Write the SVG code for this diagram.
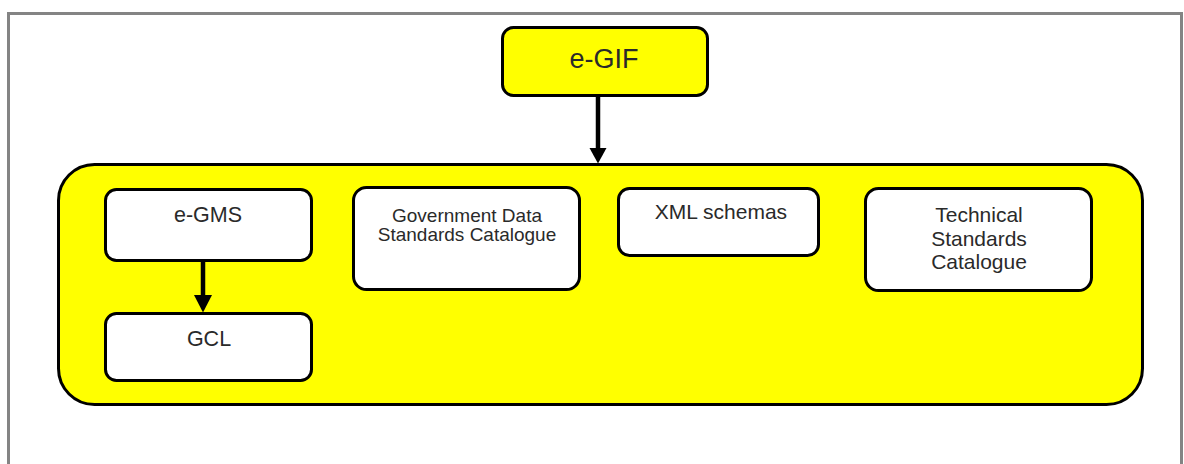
<svg xmlns="http://www.w3.org/2000/svg" width="1184" height="464" viewBox="0 0 1184 464">
  <defs>
    <style>
      .box { fill: #ffffff; stroke: #000000; stroke-width: 3; }
      .ybox { fill: #ffff00; stroke: #000000; stroke-width: 3; }
      .lbl { font-family: "Liberation Sans", Arial, sans-serif; fill: #2a2a2a; text-anchor: middle; }
      .conn { stroke: #000000; stroke-width: 4.5; fill: none; }
      .head { fill: #000000; }
    </style>
  </defs>
  <rect x="0" y="0" width="1184" height="464" fill="#ffffff"/>
  <path d="M8.5 470 V13.5 H1181.5 V470" fill="none" stroke="#848484" stroke-width="3"/>

  <g id="container">
    <rect class="ybox" x="58.5" y="164.5" width="1084" height="240" rx="36" ry="36"/>
  </g>

  <g id="egif">
    <rect class="ybox" x="502.5" y="27.5" width="205" height="68" rx="11" ry="11"/>
    <text class="lbl" x="604" y="67.5" font-size="27" fill="#111">e-GIF</text>
  </g>

  <g id="egms">
    <rect class="box" x="105.5" y="189.5" width="206" height="71" rx="11" ry="11"/>
    <text class="lbl" x="208" y="221.5" font-size="21.5">e-GMS</text>
  </g>

  <g id="gcl">
    <rect class="box" x="105.5" y="313.5" width="206" height="67" rx="11" ry="11"/>
    <text class="lbl" x="209" y="346" font-size="21.5">GCL</text>
  </g>

  <g id="gdsc">
    <rect class="box" x="353.5" y="187.5" width="226" height="102" rx="13" ry="13"/>
    <text class="lbl" x="467" y="221.5" font-size="19">Government Data</text>
    <text class="lbl" x="467" y="240.5" font-size="19">Standards Catalogue</text>
  </g>

  <g id="xml">
    <rect class="box" x="618.5" y="188.5" width="200" height="67" rx="11" ry="11"/>
    <text class="lbl" x="721" y="219" font-size="21">XML schemas</text>
  </g>

  <g id="tsc">
    <rect class="box" x="865.5" y="188.5" width="226" height="102" rx="13" ry="13"/>
    <text class="lbl" x="979" y="221.5" font-size="21">Technical</text>
    <text class="lbl" x="979" y="245.5" font-size="21">Standards</text>
    <text class="lbl" x="979" y="269" font-size="21">Catalogue</text>
  </g>

  <g id="connectors">
    <line class="conn" x1="598" y1="96" x2="598" y2="149"/>
    <polygon class="head" points="589.5,148 606.5,148 598,163.5"/>
    <line class="conn" x1="203" y1="261" x2="203" y2="296"/>
    <polygon class="head" points="194,295 212,295 203,312.5"/>
  </g>
</svg>
